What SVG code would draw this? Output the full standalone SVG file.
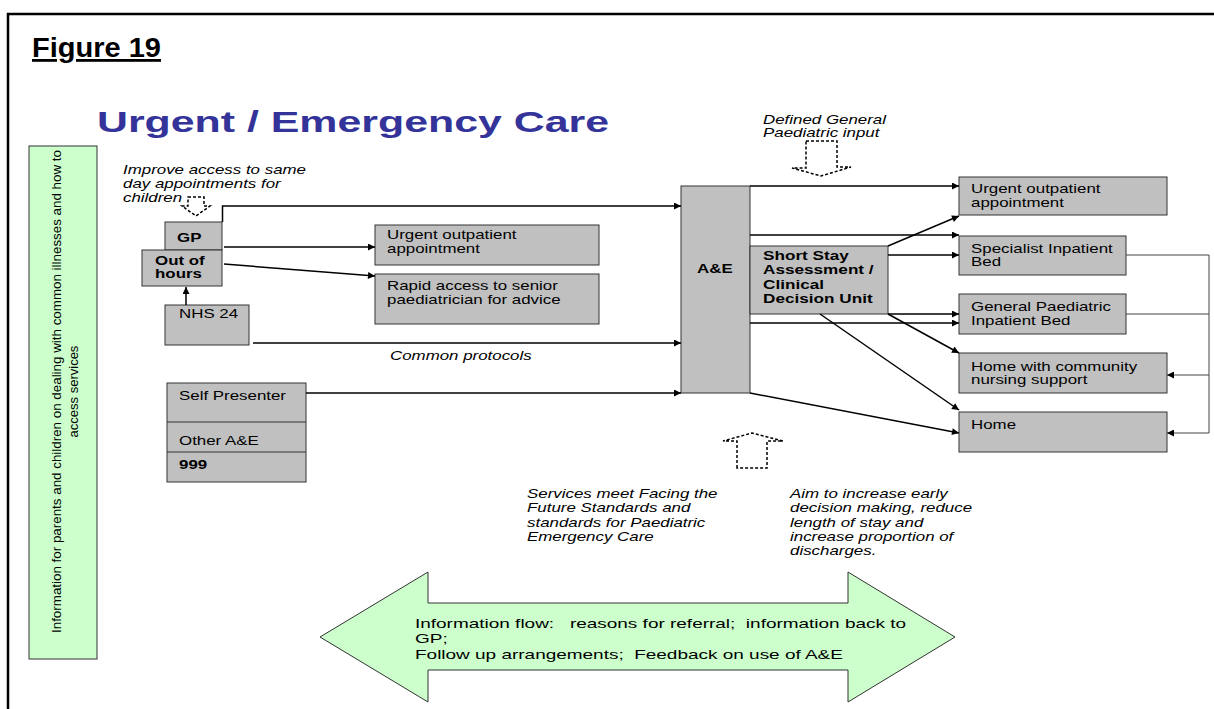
<svg xmlns="http://www.w3.org/2000/svg" width="1214" height="709" viewBox="0 0 1214 709">
<defs>
<marker id="ah" viewBox="0 0 10 10" refX="10" refY="5" markerWidth="9" markerHeight="7" orient="auto" markerUnits="userSpaceOnUse"><path d="M0,0 L10,5 L0,10 z" fill="#000"/></marker>
<style>
.box{fill:#C0C0C0;stroke:#333;stroke-width:1}
.t{font-family:"Liberation Sans",Arial,sans-serif;font-size:13px;fill:#000}
.b{font-weight:bold}
.i{font-style:italic}
.c{fill:none;stroke:#000;stroke-width:1.5}
.thin{fill:none;stroke:#444;stroke-width:1}
.dash{fill:none;stroke:#000;stroke-width:1.5;stroke-dasharray:3,2}
.green{fill:#CCFFCC;stroke:#333;stroke-width:1}
</style>
</defs>
<rect x="0" y="0" width="1214" height="709" fill="#fff"/>
<path d="M8,709 V14 H1214" fill="none" stroke="#000" stroke-width="2.5"/>
<text x="32" y="57" font-family="Liberation Sans,Arial,sans-serif" font-size="28" font-weight="bold" text-decoration="underline" textLength="129" lengthAdjust="spacingAndGlyphs">Figure 19</text>
<text x="97" y="132" font-family="Liberation Sans,Arial,sans-serif" font-size="30" font-weight="bold" fill="#333399" textLength="512" lengthAdjust="spacingAndGlyphs">Urgent / Emergency Care</text>

<g id="info-panel">
<rect class="green" x="29" y="146" width="68" height="513"/>
<text class="t" font-size="14" text-anchor="middle" transform="translate(61,391.5) rotate(-90)" textLength="483" lengthAdjust="spacingAndGlyphs">Information for parents and children on dealing with common illnesses and how to</text>
<text class="t" font-size="14" text-anchor="middle" transform="translate(78,391.5) rotate(-90)">access services</text>
</g>

<g id="note-gp">
<text class="t i" transform="matrix(1.3 0 0 1 123 174)"><tspan x="0" y="0">Improve access to same</tspan><tspan x="0" y="14">day appointments for</tspan><tspan x="0" y="28">children</tspan></text>
<path class="dash" d="M188,197 H204 V206 H210 L196,216 L182,206 H188 Z"/>
</g>

<g id="gp"><rect class="box" x="165" y="222" width="57" height="28"/><text class="t b" transform="matrix(1.3 0 0 1 177 242)">GP</text></g>
<g id="out-of-hours"><rect class="box" x="142" y="250" width="80" height="36"/><text class="t b" transform="matrix(1.3 0 0 1 155 265)"><tspan x="0" y="0">Out of</tspan><tspan x="0" y="13">hours</tspan></text></g>
<g id="nhs24"><rect class="box" x="165" y="305" width="84" height="40"/><text class="t" transform="matrix(1.3 0 0 1 179 318)">NHS 24</text></g>

<g id="urgent-op-left"><rect class="box" x="375" y="225" width="224" height="40"/><text class="t" transform="matrix(1.3 0 0 1 387 239)"><tspan x="0" y="0">Urgent outpatient</tspan><tspan x="0" y="14">appointment</tspan></text></g>
<g id="rapid-access"><rect class="box" x="375" y="274" width="224" height="50"/><text class="t" transform="matrix(1.3 0 0 1 387 290)"><tspan x="0" y="0">Rapid access to senior</tspan><tspan x="0" y="14">paediatrician for advice</tspan></text></g>

<g id="self-presenter">
<rect class="box" x="167" y="383" width="139" height="99"/>
<line x1="167" y1="422" x2="306" y2="422" stroke="#333" stroke-width="1"/>
<line x1="167" y1="452" x2="306" y2="452" stroke="#333" stroke-width="1"/>
<text class="t" transform="matrix(1.3 0 0 1 179 400)">Self Presenter</text>
<text class="t" transform="matrix(1.3 0 0 1 179 445)">Other A&amp;E</text>
<text class="t b" transform="matrix(1.3 0 0 1 179 469)">999</text>
</g>

<g id="ae"><rect class="box" x="681" y="186" width="69" height="207"/><text class="t b" transform="matrix(1.3 0 0 1 697 273)">A&amp;E</text></g>
<g id="short-stay"><rect class="box" x="750" y="246" width="138" height="68"/><text class="t b" transform="matrix(1.32 0 0 1 763 260)"><tspan x="0" y="0">Short Stay</tspan><tspan x="0" y="14.3">Assessment /</tspan><tspan x="0" y="28.6">Clinical</tspan><tspan x="0" y="43">Decision Unit</tspan></text></g>

<g id="note-paed">
<text class="t i" transform="matrix(1.3 0 0 1 763 124)"><tspan x="0" y="0">Defined General</tspan><tspan x="0" y="13">Paediatric input</tspan></text>
<path class="dash" d="M806,141 H837 V167 H851 L821,176 L792,168 H806 Z"/>
</g>

<g id="urgent-op-right"><rect class="box" x="959" y="177" width="208" height="38"/><text class="t" transform="matrix(1.3 0 0 1 971 193)"><tspan x="0" y="0">Urgent outpatient</tspan><tspan x="0" y="14">appointment</tspan></text></g>
<g id="specialist-bed"><rect class="box" x="959" y="236" width="167" height="39"/><text class="t" transform="matrix(1.3 0 0 1 971 253)"><tspan x="0" y="0">Specialist Inpatient</tspan><tspan x="0" y="13.5">Bed</tspan></text></g>
<g id="general-bed"><rect class="box" x="959" y="294" width="167" height="40"/><text class="t" transform="matrix(1.3 0 0 1 971 311)"><tspan x="0" y="0">General Paediatric</tspan><tspan x="0" y="14">Inpatient Bed</tspan></text></g>
<g id="home-community"><rect class="box" x="959" y="353" width="208" height="40"/><text class="t" transform="matrix(1.3 0 0 1 971 371)"><tspan x="0" y="0">Home with community</tspan><tspan x="0" y="13.5">nursing support</tspan></text></g>
<g id="home"><rect class="box" x="959" y="412" width="208" height="40"/><text class="t" transform="matrix(1.3 0 0 1 971 429)">Home</text></g>

<g id="note-standards">
<path class="dash" d="M737,468 V441 H723 L752,433 L783,441 H767 V468 Z"/>
<text class="t i" transform="matrix(1.3 0 0 1 527 498)"><tspan x="0" y="0">Services meet Facing the</tspan><tspan x="0" y="14.3">Future Standards and</tspan><tspan x="0" y="28.6">standards for Paediatric</tspan><tspan x="0" y="42.9">Emergency Care</tspan></text>
</g>
<g id="note-aim">
<text class="t i" transform="matrix(1.3 0 0 1 790 498)"><tspan x="0" y="0">Aim to increase early</tspan><tspan x="0" y="14.3">decision making, reduce</tspan><tspan x="0" y="28.6">length of stay and</tspan><tspan x="0" y="42.9">increase proportion of</tspan><tspan x="0" y="57.2">discharges.</tspan></text>
</g>

<g id="info-flow">
<polygon class="green" points="320,637 428,572 428,603 848,603 848,572 955,637 848,702 848,670 428,670 428,702"/>
<text class="t" font-size="13.5" style="white-space:pre" transform="matrix(1.46 0 0 1 415 628)"><tspan x="0" y="0">Information flow:   reasons for referral;  information back to</tspan><tspan x="0" y="15.5">GP;</tspan><tspan x="0" y="31">Follow up arrangements;  Feedback on use of A&amp;E</tspan></text>
</g>

<g id="connectors">
<path class="c" d="M186,305 V287" marker-end="url(#ah)"/>
<path class="c" d="M222.5,222 V206 H681" marker-end="url(#ah)"/>
<path class="c" d="M224,247 H375" marker-end="url(#ah)"/>
<path class="c" d="M224,264 L375,276" marker-end="url(#ah)"/>
<path class="c" d="M253,343 H681" marker-end="url(#ah)"/>
<text class="t i" transform="matrix(1.3 0 0 1 390 360)">Common protocols</text>
<path class="c" d="M306,393 H681" marker-end="url(#ah)"/>
<path class="c" d="M750,186 H959" marker-end="url(#ah)"/>
<path class="c" d="M888,246 L959,216" marker-end="url(#ah)"/>
<path class="c" d="M750,235 H959" marker-end="url(#ah)"/>
<path class="c" d="M888,255 H959" marker-end="url(#ah)"/>
<path class="c" d="M888,314 H959" marker-end="url(#ah)"/>
<path class="c" d="M750,323 H959" marker-end="url(#ah)"/>
<path class="c" d="M888,314 L959,353" marker-end="url(#ah)"/>
<path class="c" d="M820,314 L959,410" marker-end="url(#ah)"/>
<path class="c" d="M750,393 L959,433" marker-end="url(#ah)"/>
<path class="thin" d="M1126,255 H1209 V433 H1167" marker-end="url(#ah)"/>
<path class="thin" d="M1126,314 H1209"/>
<path class="thin" d="M1209,375 H1167" marker-end="url(#ah)"/>
</g>
</svg>
